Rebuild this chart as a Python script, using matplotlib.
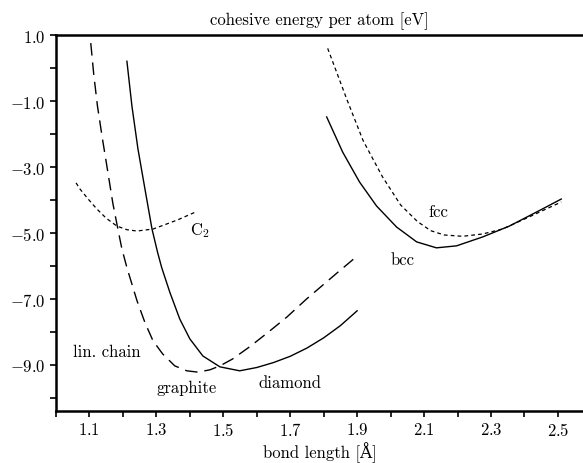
import numpy as np
import matplotlib
matplotlib.use("Agg")
import matplotlib.pyplot as plt
from matplotlib.ticker import MultipleLocator, FuncFormatter

plt.rcParams['font.family'] = ['cmr10', 'DejaVu Serif']
plt.rcParams['mathtext.fontset'] = 'cm'

# curves: bond length [A], energy [eV]
chain_x = [1.104, 1.113, 1.124, 1.139, 1.155, 1.17, 1.185, 1.197, 1.212, 1.242, 1.266, 1.29,
           1.319, 1.355, 1.391, 1.424, 1.46, 1.49, 1.528, 1.579, 1.633, 1.69, 1.749, 1.839, 1.9]
chain_y = [0.76, -0.2, -1.15, -2.15, -3.15, -4.1, -4.88, -5.48, -6.05, -7.05, -7.72, -8.27,
           -8.67, -9.03, -9.18, -9.22, -9.15, -9.03, -8.82, -8.45, -8.02, -7.55, -7.0, -6.22, -5.7]

diamond_x = [1.212, 1.227, 1.245, 1.266, 1.287, 1.304, 1.316, 1.34, 1.37, 1.40, 1.439, 1.49,
             1.549, 1.6, 1.65, 1.70, 1.75, 1.80, 1.85, 1.9]
diamond_y = [0.21, -1.15, -2.45, -3.67, -4.88, -5.6, -6.05, -6.79, -7.61, -8.21, -8.73, -9.06,
             -9.18, -9.08, -8.93, -8.74, -8.49, -8.18, -7.81, -7.36]

c2_x = [1.06, 1.072, 1.097, 1.122, 1.15, 1.182, 1.212, 1.242, 1.29, 1.33, 1.364, 1.418]
c2_y = [-3.48, -3.67, -3.98, -4.27, -4.55, -4.79, -4.9, -4.94, -4.88, -4.73, -4.6, -4.36]

bcc_x = [1.809, 1.857, 1.907, 1.958, 2.018, 2.078, 2.137, 2.197, 2.275, 2.355, 2.454, 2.51]
bcc_y = [-1.48, -2.55, -3.45, -4.18, -4.82, -5.27, -5.45, -5.39, -5.12, -4.79, -4.27, -3.97]

fcc_x = [1.812, 1.869, 1.918, 1.976, 2.03, 2.08, 2.12, 2.16, 2.215, 2.275, 2.334, 2.406, 2.51]
fcc_y = [0.6, -0.94, -2.2, -3.3, -4.15, -4.65, -4.93, -5.06, -5.1, -5.03, -4.88, -4.55, -4.06]

x_ticks = [1.1, 1.3, 1.5, 1.7, 1.9, 2.1, 2.3, 2.5]
y_ticks = [1.0, -1.0, -3.0, -5.0, -7.0, -9.0]

fig = plt.figure(figsize=(5.83, 4.64), dpi=100)
ax = fig.add_axes([0.096, 0.112, 0.904, 0.81])

ax.plot(chain_x, chain_y, color='black', lw=1.0, dashes=(9, 5))
ax.plot(diamond_x, diamond_y, color='black', lw=1.0)
ax.plot(c2_x, c2_y, color='black', lw=0.9, dashes=(3, 2.5))
ax.plot(bcc_x, bcc_y, color='black', lw=1.0)
ax.plot(fcc_x, fcc_y, color='black', lw=0.9, dashes=(3, 2.5))

fs = 12
ax.text(1.152, -8.58, 'lin. chain', ha='center', va='center', fontsize=fs)
ax.text(1.391, -9.67, 'graphite', ha='center', va='center', fontsize=fs)
ax.text(1.699, -9.52, 'diamond', ha='center', va='center', fontsize=fs)
ax.text(1.40, -4.91, r'C$_2$', ha='left', va='center', fontsize=fs)
ax.text(2.143, -4.33, 'fcc', ha='center', va='center', fontsize=fs)
ax.text(2.036, -5.79, 'bcc', ha='center', va='center', fontsize=fs)

ax.set_xlim(1.0, 2.575)
ax.set_ylim(-10.4, 1.0)
ax.set_xticks(x_ticks)
ax.set_yticks(y_ticks)
ax.xaxis.set_minor_locator(MultipleLocator(0.1))
ax.yaxis.set_minor_locator(MultipleLocator(1.0))
ax.xaxis.set_major_formatter(FuncFormatter(lambda v, p: r'$%.1f$' % v))
ax.yaxis.set_major_formatter(FuncFormatter(lambda v, p: r'$%.1f$' % v))
ax.tick_params(which='both', direction='out', length=4, width=1.2, labelsize=fs)
ax.spines['right'].set_visible(False)
for s in ['left', 'bottom', 'top']:
    ax.spines[s].set_linewidth(1.8)

ax.set_title('cohesive energy per atom [eV]', fontsize=fs, pad=8)
ax.set_xlabel('bond length [Å]', fontsize=fs, labelpad=2)

fig.savefig('out.png', dpi=100)
